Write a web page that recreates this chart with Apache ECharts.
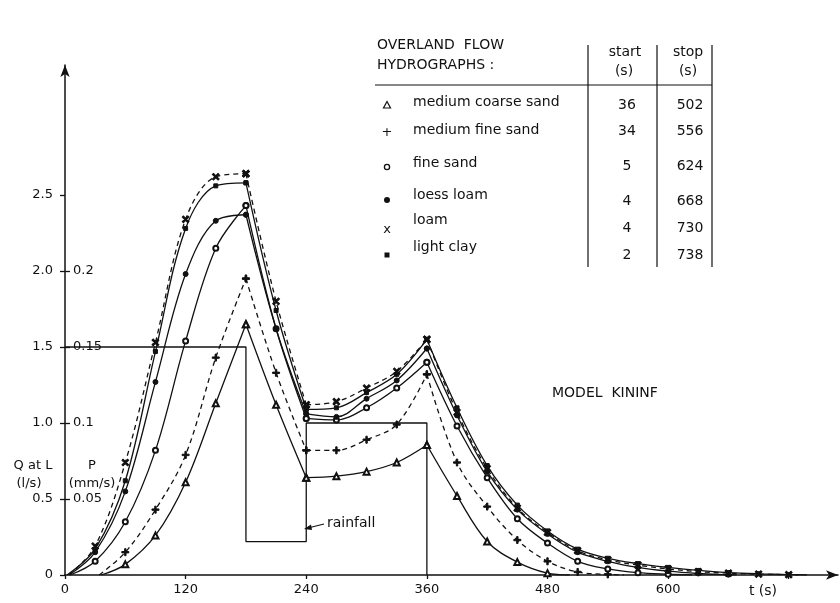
<!DOCTYPE html>
<html>
<head>
<meta charset="utf-8">
<script src="https://cdn.jsdelivr.net/npm/echarts@6/dist/echarts.min.js"></script>
<style>
  html, body { margin: 0; padding: 0; background: #fff; }
  #chart { width: 840px; height: 603px; }
</style>
</head>
<body>
<div id="chart"></div>
<script>
// time steps of the plotted points (s)
const times = [30, 60, 90, 120, 150, 180, 210, 240, 270, 300, 330, 360,
  390, 420, 450, 480, 510, 540, 570, 600, 630, 660, 690, 720];

// Q at L (l/s), null = no point
const coarseSand = [null, 0.07, 0.26, 0.61, 1.13, 1.65, 1.12, 0.64, 0.65, 0.68, 0.74, 0.855,
  0.52, 0.22, 0.085, 0.012, null, null, null, null, null, null, null, null];
const mediumFine = [null, 0.15, 0.43, 0.79, 1.43, 1.95, 1.33, 0.82, 0.82, 0.89, 0.99, 1.32,
  0.74, 0.45, 0.23, 0.09, 0.02, 0.004, null, null, null, null, null, null];
const fineSand = [0.09, 0.35, 0.82, 1.54, 2.15, 2.43, 1.62, 1.03, 1.02, 1.10, 1.23, 1.40,
  0.98, 0.64, 0.37, 0.21, 0.09, 0.04, 0.015, 0.005, null, null, null, null];
const loessLoam = [0.15, 0.55, 1.27, 1.98, 2.33, 2.37, 1.62, 1.06, 1.04, 1.16, 1.28, 1.49,
  1.05, 0.68, 0.43, 0.27, 0.15, 0.09, 0.05, 0.025, 0.01, 0.002, null, null];
const loam = [0.19, 0.74, 1.53, 2.34, 2.62, 2.64, 1.80, 1.12, 1.14, 1.23, 1.34, 1.55,
  1.07, 0.70, 0.44, 0.28, 0.16, 0.10, 0.065, 0.04, 0.022, 0.012, 0.006, 0.002];
const lightClay = [0.17, 0.62, 1.47, 2.28, 2.56, 2.58, 1.74, 1.09, 1.10, 1.20, 1.32, 1.55,
  1.10, 0.72, 0.46, 0.29, 0.17, 0.11, 0.075, 0.05, 0.03, 0.016, 0.008, 0.003];

// table: names, start and stop times (s)
const soilNames = ['medium coarse sand', 'medium fine sand', 'fine sand', 'loess loam', 'loam', 'light clay'];
const startTimes = [36, 34, 5, 4, 4, 2];
const stopTimes = [502, 556, 624, 668, 730, 738];

// rainfall P (mm/s)
const rainT = [0, 180, 180, 240, 240, 360, 360];
const rainP = [0.15, 0.15, 0.022, 0.022, 0.1, 0.1, 0];

// rainfall changes -> kinks in the hydrographs
const kinks = [180, 240, 360];

// axis ticks
const tTicks = [0, 120, 240, 360, 480, 600, 720];
const tLabels = [0, 120, 240, 360, 480, 600];
const qTicks = [0, 0.5, 1.0, 1.5, 2.0, 2.5];
const pTicks = [0.05, 0.1, 0.15, 0.2];

const INK = '#111';
const FONT = 'DejaVu Sans';
const PLUS = 'path://M4,0h2v10h-2z M0,4h10v2h-10z';

const styles = [
  { vals: coarseSand, symbol: 'emptyTriangle', size: 6, dashed: false },
  { vals: mediumFine, symbol: PLUS, size: 7, dashed: true },
  { vals: fineSand, symbol: 'emptyCircle', size: 5, dashed: false },
  { vals: loessLoam, symbol: 'circle', size: 5, dashed: false },
  { vals: loam, symbol: PLUS, size: 8, rotate: 45, dashed: true },
  { vals: lightClay, symbol: 'rect', size: 4, dashed: false }
];

const series = [];
styles.forEach((s, i) => {
  const start = startTimes[i], stop = stopTimes[i];
  const pts = [[start, 0, true]];
  times.forEach((t, k) => {
    if (s.vals[k] != null && t > start && t < stop) pts.push([t, s.vals[k], false]);
  });
  pts.push([stop, 0, true]);
  const bounds = [start].concat(kinks, [stop]);
  for (let b = 0; b < bounds.length - 1; b++) {
    const seg = pts.filter(p => p[0] >= bounds[b] && p[0] <= bounds[b + 1]);
    series.push({
      name: soilNames[i],
      type: 'line',
      smooth: 0.35,
      yAxisIndex: 0,
      symbol: s.symbol,
      symbolSize: s.size,
      symbolRotate: s.rotate || 0,
      showAllSymbol: true,
      lineStyle: { color: INK, width: 1.3, type: s.dashed ? [5, 4] : 'solid' },
      itemStyle: { color: INK, borderColor: INK, borderWidth: 1 },
      data: seg.map(p => p[2] ? { value: [p[0], p[1]], symbol: 'none' } : [p[0], p[1]]),
      silent: true,
      z: 3
    });
  }
});

series.push({
  name: 'rainfall',
  type: 'line',
  yAxisIndex: 1,
  symbol: 'none',
  lineStyle: { color: INK, width: 1.3 },
  data: rainT.map((t, i) => [t, rainP[i]]),
  silent: true,
  z: 2
});

// table graphics
const tableLeft = 375, tableRight = 712;
const rowY = [102, 130, 163, 195, 220, 247];
const valY = [105, 131, 166, 201, 228, 255];
const symY = [105, 133, 167, 200, 231, 255];
const txt = (text, x, y, align, size) => ({
  type: 'text', x: x, y: y, silent: true,
  style: { text: text, font: (size || 14) + 'px ' + FONT, fill: INK, align: align || 'left', verticalAlign: 'middle' }
});
const line = (x1, y1, x2, y2) => ({
  type: 'line', silent: true, shape: { x1: x1, y1: y1, x2: x2, y2: y2 },
  style: { stroke: INK, lineWidth: 1.2 }
});

const graphic = [
  txt('OVERLAND  FLOW', 377, 45),
  txt('HYDROGRAPHS :', 377, 65),
  txt('start', 625, 52, 'center'),
  txt('(s)', 624, 71, 'center'),
  txt('stop', 688, 52, 'center'),
  txt('(s)', 688, 71, 'center'),
  line(tableLeft, 85, tableRight, 85),
  line(588, 45, 588, 267),
  line(657, 45, 657, 267),
  line(tableRight, 45, tableRight, 267),
  txt('MODEL  KININF', 552, 393),
  txt('rainfall', 327, 523),
  line(324, 524, 308, 528),
  { type: 'polygon', silent: true, shape: { points: [[304, 529], [311, 524.5], [312, 530]] }, style: { fill: INK } },
  txt('t (s)', 763, 591, 'center'),
  txt('Q at L', 33, 466, 'center', 13),
  txt('P', 92, 466, 'center', 13),
  txt('(l/s)', 29, 484, 'center', 13),
  txt('(mm/s)', 92, 484, 'center', 13)
];
soilNames.forEach((n, i) => {
  graphic.push(txt(n, 413, rowY[i]));
  graphic.push(txt(String(startTimes[i]), 627, valY[i], 'center'));
  graphic.push(txt(String(stopTimes[i]), 690, valY[i], 'center'));
});
// table symbols
const sx = 387;
graphic.push({ type: 'polygon', silent: true, shape: { points: [[sx, symY[0] - 3.5], [sx - 3.5, symY[0] + 3], [sx + 3.5, symY[0] + 3]] }, style: { fill: '#fff', stroke: INK, lineWidth: 1.2 } });
graphic.push(txt('+', sx, symY[1], 'center', 13));
graphic.push({ type: 'circle', silent: true, shape: { cx: sx, cy: symY[2], r: 2.6 }, style: { fill: '#fff', stroke: INK, lineWidth: 1.3 } });
graphic.push({ type: 'circle', silent: true, shape: { cx: sx, cy: symY[3], r: 3 }, style: { fill: INK } });
graphic.push(txt('x', sx, symY[4] - 1, 'center', 13));
graphic.push({ type: 'rect', silent: true, shape: { x: sx - 2.5, y: symY[5] - 2.5, width: 5, height: 5 }, style: { fill: INK } });

const axisLabelStyle = { color: INK, fontFamily: FONT, fontSize: 13 };

const chart = echarts.init(document.getElementById('chart'), null, { renderer: 'canvas' });
chart.setOption({
  animation: false,
  backgroundColor: '#fff',
  grid: { left: 65, top: 65, width: 773, height: 510, containLabel: false, outerBoundsMode: 'none' },
  xAxis: {
    type: 'value', min: 0, max: 769,
    axisLine: { show: true, lineStyle: { color: INK, width: 1.5 }, symbol: ['none', 'arrow'], symbolSize: [7, 12] },
    axisTick: { show: true, customValues: tTicks, length: 4, lineStyle: { color: INK, width: 1.3 } },
    axisLabel: Object.assign({ customValues: tLabels, margin: 8 }, axisLabelStyle),
    splitLine: { show: false }
  },
  yAxis: [
    {
      type: 'value', min: 0, max: 3.355,
      axisLine: { show: true, lineStyle: { color: INK, width: 1.5 }, symbol: ['none', 'arrow'], symbolSize: [7, 12] },
      axisTick: { show: true, customValues: qTicks, length: 5, lineStyle: { color: INK, width: 1.3 } },
      axisLabel: Object.assign({
        customValues: qTicks, margin: 12,
        formatter: v => (v === 0 ? '0' : v.toFixed(1))
      }, axisLabelStyle),
      splitLine: { show: false }
    },
    {
      type: 'value', min: 0, max: 0.3355, position: 'left', offset: 0,
      axisLine: { show: false },
      axisTick: { show: true, inside: true, customValues: pTicks, length: 5, lineStyle: { color: INK, width: 1.3 } },
      axisLabel: Object.assign({
        inside: true, customValues: pTicks, margin: 8,
        formatter: v => String(v)
      }, axisLabelStyle),
      splitLine: { show: false }
    }
  ],
  series: series,
  graphic: graphic
});
</script>
</body>
</html>
